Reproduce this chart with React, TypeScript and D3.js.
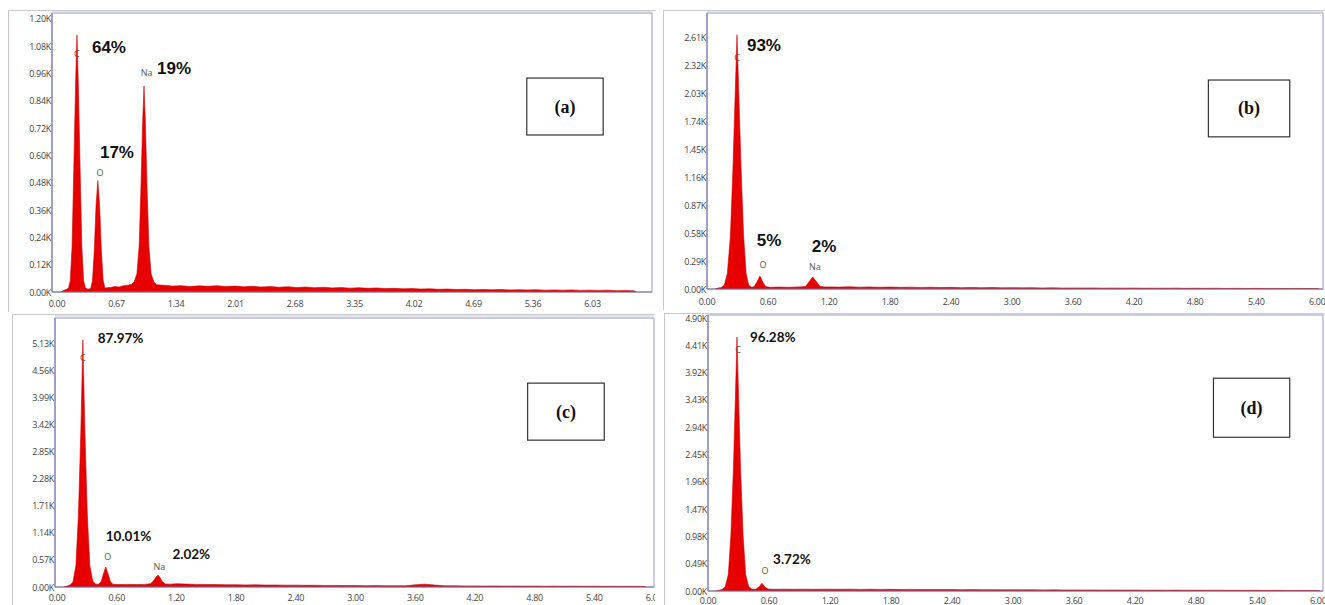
import * as d3 from "d3";

type Pt = [number, number];

// spectra: energy (keV), counts (K). low-energy part point by point, tail as 0.1 keV channels from 1.20
const lowA: Pt[] = [
  [0.05, 0], [0.08, 0.008], [0.11, 0.012], [0.13, 0.018], [0.15, 0.05], [0.17, 0.2], [0.19, 0.55],
  [0.21, 0.92], [0.225, 1.13], [0.24, 0.92], [0.26, 0.55], [0.28, 0.2], [0.3, 0.05], [0.32, 0.018],
  [0.35, 0.012], [0.38, 0.015], [0.4, 0.05], [0.42, 0.18], [0.44, 0.38], [0.46, 0.49], [0.48, 0.38],
  [0.5, 0.18], [0.52, 0.05], [0.54, 0.018], [0.6, 0.02], [0.65, 0.024], [0.7, 0.022], [0.75, 0.028],
  [0.8, 0.03], [0.84, 0.034], [0.87, 0.045], [0.9, 0.08], [0.925, 0.2], [0.945, 0.45], [0.965, 0.75],
  [0.98, 0.905], [0.995, 0.75], [1.015, 0.45], [1.035, 0.2], [1.06, 0.08], [1.09, 0.045], [1.12, 0.032],
];
const tailA = [
  0.03, 0.026, 0.028, 0.024, 0.027, 0.025, 0.028, 0.024, 0.026, 0.023,
  0.025, 0.022, 0.024, 0.021, 0.023, 0.02, 0.022, 0.019, 0.021, 0.018,
  0.02, 0.017, 0.019, 0.016, 0.018, 0.015, 0.016, 0.014, 0.015, 0.013,
  0.014, 0.012, 0.013, 0.011, 0.012, 0.01, 0.011, 0.01, 0.011, 0.009,
  0.01, 0.009, 0.01, 0.008, 0.009, 0.008, 0.009, 0.007, 0.008, 0.007,
  0.008, 0.006, 0.007, 0.005,
];

const lowB: Pt[] = [
  [0.08, 0], [0.1, 0.008], [0.14, 0.015], [0.17, 0.04], [0.2, 0.16], [0.23, 0.55], [0.255, 1.25],
  [0.275, 1.95], [0.295, 2.64], [0.315, 1.95], [0.335, 1.25], [0.36, 0.55], [0.385, 0.16], [0.41, 0.04],
  [0.44, 0.018], [0.465, 0.025], [0.49, 0.07], [0.52, 0.135], [0.55, 0.07], [0.575, 0.025], [0.62, 0.018],
  [0.7, 0.02], [0.8, 0.018], [0.9, 0.022], [0.97, 0.025], [1.0, 0.07], [1.04, 0.125], [1.08, 0.07],
  [1.11, 0.028], [1.15, 0.022],
];
const tailB = [
  0.022, 0.02, 0.023, 0.019, 0.021, 0.018, 0.02, 0.017, 0.019, 0.016,
  0.018, 0.015, 0.017, 0.014, 0.016, 0.013, 0.015, 0.012, 0.014, 0.012,
  0.013, 0.011, 0.012, 0.01, 0.011, 0.01, 0.011, 0.009, 0.01, 0.009,
  0.01, 0.008, 0.009, 0.008, 0.009, 0.007, 0.008, 0.007, 0.008, 0.006,
  0.007, 0.006, 0.007, 0.006, 0.006, 0.005, 0.006, 0.005, 0.005,
];

const lowC: Pt[] = [
  [0.07, 0], [0.1, 0.02], [0.13, 0.04], [0.16, 0.1], [0.19, 0.45], [0.215, 1.5], [0.24, 3.3],
  [0.26, 5.2], [0.28, 3.3], [0.305, 1.5], [0.33, 0.45], [0.36, 0.12], [0.39, 0.06], [0.42, 0.06],
  [0.445, 0.12], [0.47, 0.3], [0.49, 0.42], [0.51, 0.3], [0.535, 0.12], [0.56, 0.06], [0.62, 0.05],
  [0.7, 0.055], [0.8, 0.05], [0.88, 0.055], [0.94, 0.07], [0.97, 0.13], [1.0, 0.22], [1.015, 0.25],
  [1.035, 0.2], [1.06, 0.11], [1.09, 0.065], [1.14, 0.06],
];
const tailC = [
  0.07, 0.062, 0.055, 0.052, 0.05, 0.047, 0.048, 0.044, 0.045, 0.041,
  0.042, 0.038, 0.039, 0.035, 0.036, 0.032, 0.033, 0.03, 0.031, 0.028,
  0.029, 0.027, 0.028, 0.026, 0.045, 0.06, 0.04, 0.025, 0.024, 0.022,
  0.023, 0.021, 0.022, 0.02, 0.021, 0.019, 0.02, 0.018, 0.019, 0.017,
  0.018, 0.016, 0.017, 0.015, 0.016, 0.014, 0.015, 0.014,
];

const lowD: Pt[] = [
  [0.08, 0], [0.11, 0.012], [0.14, 0.03], [0.17, 0.08], [0.2, 0.3], [0.225, 1.0], [0.25, 2.2],
  [0.268, 3.4], [0.285, 4.56], [0.302, 3.4], [0.32, 2.2], [0.345, 1.0], [0.37, 0.3], [0.4, 0.08],
  [0.43, 0.035], [0.47, 0.03], [0.5, 0.07], [0.53, 0.14], [0.56, 0.07], [0.59, 0.035], [0.65, 0.03],
  [0.75, 0.032], [0.85, 0.03], [0.95, 0.033], [1.05, 0.03], [1.15, 0.032],
];
const tailD = [
  0.032, 0.03, 0.033, 0.029, 0.031, 0.028, 0.03, 0.027, 0.029, 0.026,
  0.027, 0.025, 0.026, 0.024, 0.025, 0.023, 0.024, 0.022, 0.023, 0.021,
  0.022, 0.02, 0.021, 0.019, 0.02, 0.018, 0.019, 0.017, 0.018, 0.016,
  0.017, 0.015, 0.016, 0.015, 0.016, 0.014, 0.015, 0.013, 0.014, 0.013,
  0.013, 0.012, 0.013, 0.011, 0.012, 0.011, 0.011, 0.01, 0.01,
];

// tick labels
const xTicksA = [0, 0.67, 1.34, 2.01, 2.68, 3.35, 4.02, 4.69, 5.36, 6.03];
const xTicks6 = [0, 0.6, 1.2, 1.8, 2.4, 3.0, 3.6, 4.2, 4.8, 5.4, 6.0];
const yTicksA = [0, 0.12, 0.24, 0.36, 0.48, 0.6, 0.72, 0.84, 0.96, 1.08, 1.2];
const yTicksB = [0, 0.29, 0.58, 0.87, 1.16, 1.45, 1.74, 2.03, 2.32, 2.61];
const yTicksC = [0, 0.57, 1.14, 1.71, 2.28, 2.85, 3.42, 3.99, 4.56, 5.13];
const yTicksD = [0, 0.49, 0.98, 1.47, 1.96, 2.45, 2.94, 3.43, 3.92, 4.41, 4.9];

// element markers [element, keV, K]
const elemA: [string, number, number][] = [["C", 0.225, 1.05], ["O", 0.484, 0.527], ["Na", 1.01, 0.963]];
const elemB: [string, number, number][] = [["C", 0.295, 2.4], ["O", 0.55, 0.25], ["Na", 1.06, 0.23]];
const elemC: [string, number, number][] = [["C", 0.26, 4.82], ["O", 0.51, 0.65], ["Na", 1.03, 0.44]];
const elemD: [string, number, number][] = [["C", 0.295, 4.33], ["O", 0.56, 0.36]];

// weight-percent annotations [text, keV, K]
const pctA: [string, number, number][] = [["64%", 0.394, 1.073], ["17%", 0.484, 0.615], ["19%", 1.126, 0.98]];
const pctB: [string, number, number][] = [["93%", 0.393, 2.53], ["5%", 0.49, 0.5], ["2%", 1.03, 0.44]];
const pctC: [string, number, number][] = [["87.97%", 0.41, 5.24], ["10.01%", 0.49, 1.07], ["2.02%", 1.16, 0.69]];
const pctD: [string, number, number][] = [["96.28%", 0.413, 4.56], ["3.72%", 0.64, 0.57]];

const spectrum = (low: Pt[], tail: number[]): Pt[] => {
  const pts: Pt[] = [...low, ...tail.map((v, i) => [1.2 + i * 0.1, v] as Pt)];
  pts.push([pts[pts.length - 1][0] + 0.02, 0]);
  return pts;
};

const panels = [
  {
    id: "a", frame: [8, 10, 656, 312], plot: [52, 13, 652, 292], xd: [-0.056, 6.7], yd: [0, 1.226],
    data: spectrum(lowA, tailA), xt: xTicksA, yt: yTicksA, elems: elemA, pcts: pctA, pctSize: 17,
    pctFont: "'Liberation Sans', Arial, sans-serif", box: [5.29, 0.94, 6.15, 0.69], label: "(a)", xlab: 11,
  },
  {
    id: "b", frame: [663, 10, 1330, 310], plot: [707, 13, 1323, 289], xd: [0, 6.057], yd: [0, 2.866],
    data: spectrum(lowB, tailB), xt: xTicks6, yt: yTicksB, elems: elemB, pcts: pctB, pctSize: 17,
    pctFont: "'Liberation Sans', Arial, sans-serif", box: [4.93, 2.17, 5.73, 1.58], label: "(b)", xlab: 12,
  },
  {
    id: "c", frame: [12, 314, 655, 610], plot: [55, 318, 654, 587], xd: [-0.02, 6.0], yd: [0, 5.66],
    data: spectrum(lowC, tailC), xt: xTicks6, yt: yTicksC, elems: elemC, pcts: pctC, pctSize: 13.5,
    pctFont: "Lato, 'Open Sans', sans-serif", box: [4.73, 4.29, 5.5, 3.09], label: "(c)", xlab: 10.5,
  },
  {
    id: "d", frame: [664, 313, 1330, 610], plot: [708, 315, 1323, 591], xd: [0, 6.047], yd: [0, 4.955],
    data: spectrum(lowD, tailD), xt: xTicks6, yt: yTicksD, elems: elemD, pcts: pctD, pctSize: 13.5,
    pctFont: "Lato, 'Open Sans', sans-serif", box: [4.97, 3.82, 5.72, 2.76], label: "(d)", xlab: 9,
  },
];

function Panel({ p }: { p: (typeof panels)[number] }) {
  const [px0, py0, px1, py1] = p.plot;
  const [fx0, fy0, fx1, fy1] = p.frame;
  const x = d3.scaleLinear().domain(p.xd).range([px0, px1]);
  const y = d3.scaleLinear().domain(p.yd).range([py1, py0]);
  const area = d3
    .area<Pt>()
    .x((d) => x(d[0]))
    .y0(y(0))
    .y1((d) => y(d[1]));
  const tickFont = "'Open Sans', 'Segoe UI', sans-serif";
  const [b0, b1, b2, b3] = p.box;
  return (
    <g>
      <defs>
        <clipPath id={`clip-${p.id}`}>
          <rect x={fx0} y={fy0} width={fx1 - fx0} height={fy1 - fy0} />
        </clipPath>
        <clipPath id={`plot-${p.id}`}>
          <rect x={px0} y={py0} width={px1 - px0} height={py1 - py0} />
        </clipPath>
      </defs>
      <g clipPath={`url(#clip-${p.id})`}>
        <rect x={fx0 + 0.5} y={fy0 + 0.5} width={fx1 - fx0} height={fy1 - fy0} fill="#fff" stroke="#c9c9c9" />
        {/* plot frame */}
        <line x1={px0} x2={px1} y1={py0 - 2} y2={py0 - 2} stroke="#c9c9e2" />
        <rect x={px0} y={py0} width={px1 - px0} height={py1 - py0} fill="#fff" stroke="#9a9ac4" />
        <g clipPath={`url(#plot-${p.id})`}>
          <path d={area(p.data) ?? ""} fill="#e60000" stroke="#d40000" strokeWidth={0.6} />
        </g>
        <line x1={px0} x2={px0} y1={py0} y2={py1} stroke="#7474a6" />
        <line x1={px0} x2={px1} y1={py1} y2={py1} stroke="#7474a6" />
        {p.yt.map((t) => (
          <text key={`y${t}`} x={px0 - 1} y={y(t)} textAnchor="end" dominantBaseline="central"
            fontFamily={tickFont} fontSize={9} fill="#444" letterSpacing={-0.3}>
            {t.toFixed(2)}K
          </text>
        ))}
        {p.xt.map((t) => (
          <text key={`x${t}`} x={x(t)} y={py1 + p.xlab} textAnchor="middle" dominantBaseline="central"
            fontFamily={tickFont} fontSize={9} fill="#444" letterSpacing={-0.3}>
            {t.toFixed(2)}
          </text>
        ))}
        {p.elems.map(([el, e, v]) => (
          <text key={el} x={x(e)} y={y(v)} textAnchor="middle" dominantBaseline="central"
            fontFamily={tickFont} fontSize={9} fill={el === "C" ? "#8a3a3a" : "#555"}>
            {el}
          </text>
        ))}
        {p.pcts.map(([s, e, v]) => (
          <text key={s} x={x(e)} y={y(v)} dominantBaseline="central" fontFamily={p.pctFont}
            fontSize={p.pctSize} fontWeight="bold" fill="#111">
            {s}
          </text>
        ))}
        <rect x={x(b0)} y={y(b1)} width={x(b2) - x(b0)} height={y(b3) - y(b1)} fill="#fff" stroke="#333" strokeWidth={1.2} />
        <text x={(x(b0) + x(b2)) / 2} y={(y(b1) + y(b3)) / 2} textAnchor="middle" dominantBaseline="central"
          fontFamily="'Liberation Serif', 'Times New Roman', serif" fontSize={18} fontWeight="bold" fill="#111">
          {p.label}
        </text>
      </g>
    </g>
  );
}

export default function App() {
  return (
    <svg width={1325} height={605} style={{ position: "absolute", left: 0, top: 0, background: "#fff" }}>
      {panels.map((p) => (
        <Panel key={p.id} p={p} />
      ))}
    </svg>
  );
}
